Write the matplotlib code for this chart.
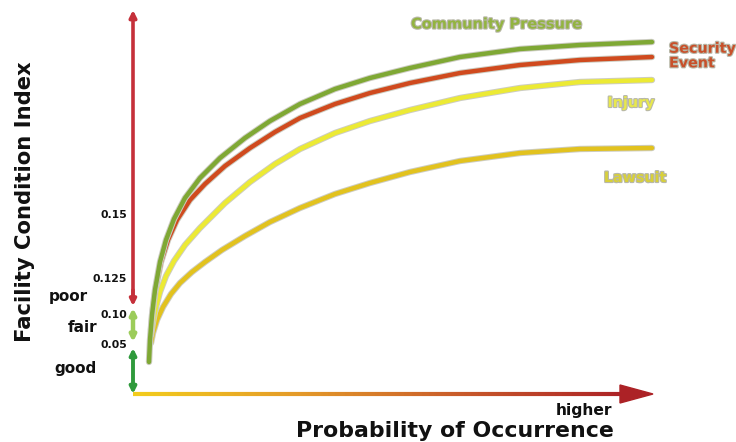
import numpy as np
import matplotlib
matplotlib.use('Agg')
from matplotlib import pyplot as plt
from matplotlib import patheffects as pe
from matplotlib.collections import LineCollection
from matplotlib.colors import LinearSegmentedColormap

# curves (canvas coords, y grows downward)
community_x = [149, 150, 152, 155, 160, 166, 174, 185, 200, 220, 245, 270, 300, 335, 370, 410, 460, 520, 580, 652]
community_y = [362, 340, 315, 290, 262, 240, 219, 198, 178, 158, 138, 121, 104, 89, 78, 68, 57, 49, 45, 42]

security_x = [151, 153, 156, 161, 168, 177, 190, 205, 225, 250, 275, 300, 335, 370, 410, 460, 520, 580, 652]
security_y = [330, 308, 287, 262, 240, 220, 200, 184, 166, 148, 132, 118, 104, 93, 83, 73, 65, 60, 57]

injury_x = [151, 153, 156, 160, 166, 174, 185, 200, 225, 250, 275, 300, 335, 370, 410, 460, 520, 580, 652]
injury_y = [335, 322, 307, 292, 276, 261, 245, 228, 203, 182, 164, 149, 133, 121, 110, 98, 88, 82, 80]

lawsuit_x = [151, 153, 157, 163, 171, 180, 192, 205, 222, 245, 270, 300, 335, 370, 410, 460, 520, 580, 652]
lawsuit_y = [343, 333, 320, 307, 294, 283, 272, 262, 250, 236, 222, 208, 194, 183, 172, 161, 153, 149, 148]

tick_labels = ['0.15', '0.125', '0.10', '0.05']
tick_pos = [215, 279, 315, 345]

band_labels = ['poor', 'fair', 'good']
band_pos = [296, 328, 368]
band_right = [88, 97, 97]

fig = plt.figure(figsize=(7.36, 4.42), dpi=100)
ax = fig.add_axes([0, 0, 1, 1])
ax.set_xlim(0, 736)
ax.set_ylim(442, 0)
ax.axis('off')

halo = [pe.Stroke(linewidth=4.6, foreground='#cdcdc2'), pe.Normal()]
curves = [
    (lawsuit_x, lawsuit_y, '#e2c21e'),
    (injury_x, injury_y, '#ecea34'),
    (security_x, security_y, '#d04a1e'),
    (community_x, community_y, '#7fa834'),
]
for xs, ys, c in curves:
    ax.plot(xs, ys, color=c, lw=3.2, solid_capstyle='round',
            solid_joinstyle='round', path_effects=halo, zorder=3)

# vertical axis: red arrow up, plus the good/fair segments
ax.annotate('', xy=(133, 10), xytext=(133, 300),
            arrowprops=dict(arrowstyle='-|>', color='#c5303a', lw=2.6,
                            mutation_scale=10, shrinkA=0, shrinkB=0))
ax.annotate('', xy=(133, 306), xytext=(133, 290),
            arrowprops=dict(arrowstyle='-|>', color='#c5303a', lw=2.6,
                            mutation_scale=9, shrinkA=0, shrinkB=0))
ax.annotate('', xy=(133, 342), xytext=(133, 308),
            arrowprops=dict(arrowstyle='<|-|>', color='#9ccc5a', lw=3.2,
                            mutation_scale=8, shrinkA=0, shrinkB=0))
ax.annotate('', xy=(133, 394), xytext=(133, 348),
            arrowprops=dict(arrowstyle='<|-|>', color='#2f9a3c', lw=2.8,
                            mutation_scale=9, shrinkA=0, shrinkB=0))

# horizontal axis with yellow -> red gradient
cmap = LinearSegmentedColormap.from_list('prob', ['#f2cc1c', '#e49a28', '#c85a2a', '#ac2226'])
hx = np.linspace(133, 624, 200)
segs = [[(hx[i], 394), (hx[i + 1], 394)] for i in range(len(hx) - 1)]
lc = LineCollection(segs, colors=cmap(np.linspace(0, 1, len(segs))), linewidths=3.0,
                    capstyle='butt', zorder=2)
ax.add_collection(lc)
ax.fill([620, 653, 620], [385, 394, 403], color='#ac2226', zorder=2)

bold = dict(family='DejaVu Sans', fontweight='bold')
for lab, y in zip(tick_labels, tick_pos):
    ax.text(127, y, lab, ha='right', va='center', fontsize=7.8, color='#111111', **bold)
for lab, y, x in zip(band_labels, band_pos, band_right):
    ax.text(x, y, lab, ha='right', va='center', fontsize=11, color='#111111', **bold)

ax.text(25, 202, 'Facility Condition Index', rotation=90, ha='center', va='center',
        fontsize=15.2, color='#111111', **bold)
ax.text(612, 410, 'higher', ha='right', va='center', fontsize=11.2, color='#111111', **bold)
ax.text(455, 431, 'Probability of Occurrence', ha='center', va='center',
        fontsize=15.8, color='#111111', **bold)

txt_halo = [pe.withStroke(linewidth=1.6, foreground='#b8b8a8')]
ax.text(497, 24, 'Community Pressure', ha='center', va='center', fontsize=10.5,
        color='#93b440', path_effects=txt_halo, **bold)
ax.text(669, 56, 'Security\nEvent', ha='left', va='center', fontsize=10.3,
        linespacing=1.05, color='#c8502a', path_effects=txt_halo, **bold)
ax.text(631, 103, 'Injury', ha='center', va='center', fontsize=10.3,
        color='#e8e84c', path_effects=txt_halo, **bold)
ax.text(635, 178, 'Lawsuit', ha='center', va='center', fontsize=10.3,
        color='#d8d03a', path_effects=txt_halo, **bold)

fig.savefig('out.png', dpi=100)
